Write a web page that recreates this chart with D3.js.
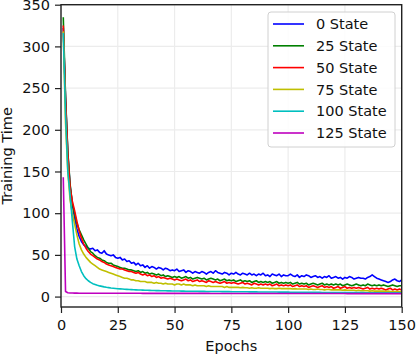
<!DOCTYPE html>
<html>
<head>
<meta charset="utf-8">
<script src="https://cdn.jsdelivr.net/npm/d3@7"></script>
<style>
  body { margin: 0; background: #fff; }
  svg { font-family: "DejaVu Sans", sans-serif; }
</style>
</head>
<body>
<script>
// series values, one per epoch (1..150)
var state0 = [
  322, 238, 172, 133, 110, 94, 81, 72, 66, 62,
  60, 58, 57, 58, 55, 56, 53, 52, 55, 51,
  50, 49, 50, 47, 46, 47, 44, 45, 42, 43,
  40, 41, 38, 40, 37, 38, 35, 37, 34, 36,
  35, 33, 35, 34, 32, 34, 33, 31, 32, 31,
  33, 30, 31, 32, 29, 31, 30, 28, 30, 29,
  28, 30, 29, 27, 29, 30, 28, 31, 29, 28,
  27, 29, 28, 26, 28, 27, 29, 27, 26, 28,
  27, 26, 28, 26, 27, 25, 27, 26, 28, 25,
  26, 24, 27, 26, 25, 27, 24, 26, 25, 25,
  27, 25, 24, 26, 23, 25, 24, 26, 25, 23,
  24, 25, 23, 24, 22, 24, 23, 25, 22, 23,
  24, 22, 23, 21, 23, 22, 24, 23, 21, 22,
  23, 22, 22, 21, 23, 24, 26, 24, 22, 21,
  20, 19, 18, 17, 18, 20, 21, 19, 18, 20
];
var state25 = [
  335, 240, 174, 135, 112, 99, 88, 80, 74, 68,
  63, 58, 54, 52, 49, 47, 46, 44, 43, 41,
  40, 40, 38, 37, 36, 35, 34, 34, 33, 32,
  32, 31, 30, 31, 29, 30, 28, 29, 27, 28,
  27, 26, 27, 25, 26, 24, 25, 24, 23, 24,
  23, 24, 22, 23, 24, 22, 23, 21, 22, 23,
  22, 21, 22, 20, 21, 22, 21, 20, 21, 19,
  20, 21, 19, 20, 19, 20, 18, 19, 20, 18,
  19, 18, 19, 17, 18, 19, 17, 18, 17, 18,
  17, 18, 16, 17, 18, 16, 17, 16, 17, 16,
  17, 15, 16, 17, 15, 16, 15, 16, 14, 15,
  16, 15, 14, 15, 16, 14, 15, 14, 15, 14,
  15, 14, 15, 13, 14, 15, 14, 13, 14, 15,
  14, 13, 14, 13, 15, 14, 13, 14, 13, 14,
  13, 14, 13, 12, 13, 14, 13, 12, 13, 13
];
var state50 = [
  325, 235, 170, 131, 114, 103, 90, 79, 70, 63,
  58, 54, 51, 49, 47, 45, 44, 42, 41, 39,
  38, 37, 36, 35, 34, 33, 33, 32, 31, 30,
  30, 29, 28, 29, 27, 26, 27, 25, 26, 24,
  25, 23, 24, 22, 23, 22, 21, 22, 21, 20,
  21, 20, 19, 20, 21, 19, 20, 18, 19, 20,
  18, 19, 18, 17, 19, 18, 17, 18, 17, 16,
  17, 18, 16, 17, 16, 17, 16, 15, 16, 17,
  15, 16, 15, 14, 16, 15, 14, 15, 14, 15,
  14, 15, 13, 14, 15, 13, 14, 13, 14, 13,
  14, 12, 13, 14, 12, 13, 12, 13, 11, 12,
  13, 12, 11, 12, 13, 11, 12, 11, 12, 10,
  11, 12, 10, 11, 12, 10, 11, 10, 11, 10,
  11, 10, 9, 10, 11, 9, 10, 9, 10, 9,
  10, 9, 8, 9, 10, 8, 9, 8, 9, 8
];
var state75 = [
  318, 208, 150, 116, 99, 87, 74, 63, 56, 51,
  47, 44, 41, 39, 37, 35, 33, 32, 31, 30,
  29, 28, 27, 26, 25, 24, 23, 22, 22, 21,
  20, 20, 19, 19, 18, 18, 18, 17, 17, 17,
  16, 17, 16, 16, 15, 16, 15, 15, 15, 14,
  15, 15, 14, 15, 14, 14, 14, 13, 14, 13,
  13, 13, 13, 12, 13, 12, 12, 12, 12, 12,
  12, 11, 12, 11, 11, 11, 11, 11, 10.5, 11,
  10.5, 10.5, 10, 10.5, 10, 10, 10.5, 10, 10, 10,
  10, 9.5, 10, 9.5, 9.5, 10, 9.5, 9.5, 9.5, 9.5,
  9.5, 9, 9.5, 9, 9, 9, 9, 9, 8.5, 9,
  8.5, 8.5, 9, 8.5, 8.5, 8, 8.5, 8.5, 8, 8,
  8, 8, 8, 7.5, 8, 7.5, 7.5, 7.5, 7.5, 7,
  7.5, 7, 7, 7, 7, 6.5, 7, 6.5, 6.5, 6.5,
  6.5, 6.5, 6, 6.5, 6, 6, 6, 6, 6, 6
];
var state100 = [
  316, 218, 150, 122, 90, 60, 45, 37, 30, 25,
  21.5, 19, 17, 15.5, 14.5, 13.5, 12.8, 12.2, 11.6, 11.1,
  10.7, 10.3, 10, 9.7, 9.4, 9.2, 9, 8.8, 8.6, 8.4,
  8.3, 8.1, 8, 7.9, 7.8, 7.7, 7.6, 7.5, 7.4, 7.3,
  7.2, 7.1, 7.1, 7, 6.9, 6.9, 6.8, 6.8, 6.7, 6.7,
  6.6, 6.6, 6.5, 6.5, 6.4, 6.4, 6.4, 6.3, 6.3, 6.3,
  6.2, 6.2, 6.2, 6.1, 6.1, 6.1, 6, 6, 6, 6,
  5.9, 5.9, 5.9, 5.9, 5.8, 5.8, 5.8, 5.8, 5.7, 5.7,
  5.7, 5.7, 5.6, 5.6, 5.6, 5.6, 5.5, 5.5, 5.5, 5.5,
  5.4, 5.4, 5.4, 5.4, 5.4, 5.3, 5.3, 5.3, 5.3, 5.3,
  5.2, 5.2, 5.2, 5.1, 5.1, 5.1, 5.1, 5.1, 5, 5,
  5, 5, 5, 5, 4.9, 4.9, 4.9, 4.9, 4.9, 4.9,
  4.8, 4.8, 4.8, 4.8, 4.8, 4.8, 4.7, 4.7, 4.7, 4.7,
  4.7, 4.7, 4.7, 4.6, 4.6, 4.6, 4.6, 4.6, 4.6, 4.6,
  4.6, 4.5, 4.5, 4.5, 4.5, 4.5, 4.5, 4.5, 4.5, 4.5
];
var state125 = [
  143, 6, 4.6, 4.3, 4.2, 4.1, 4.1, 4.0, 4.0, 4.0,
  4.0, 4.0, 4.0, 3.9, 3.9, 3.9, 3.9, 3.9, 3.9, 3.9,
  3.9, 3.9, 3.9, 3.9, 3.9, 3.9, 3.9, 3.9, 3.9, 3.9,
  3.9, 3.9, 3.9, 3.9, 3.9, 3.8, 3.8, 3.8, 3.8, 3.8,
  3.8, 3.8, 3.8, 3.8, 3.8, 3.8, 3.8, 3.8, 3.8, 3.8,
  3.8, 3.8, 3.8, 3.8, 3.8, 3.8, 3.8, 3.8, 3.8, 3.8,
  3.8, 3.8, 3.8, 3.8, 3.8, 3.7, 3.7, 3.7, 3.7, 3.7,
  3.7, 3.7, 3.7, 3.7, 3.7, 3.7, 3.7, 3.7, 3.7, 3.7,
  3.7, 3.7, 3.7, 3.7, 3.7, 3.7, 3.7, 3.7, 3.7, 3.7,
  3.7, 3.7, 3.7, 3.7, 3.7, 3.6, 3.6, 3.6, 3.6, 3.6,
  3.6, 3.6, 3.6, 3.6, 3.6, 3.6, 3.6, 3.6, 3.6, 3.6,
  3.6, 3.6, 3.6, 3.6, 3.6, 3.6, 3.6, 3.6, 3.6, 3.6,
  3.6, 3.6, 3.6, 3.6, 3.6, 3.5, 3.5, 3.5, 3.5, 3.5,
  3.5, 3.5, 3.5, 3.5, 3.5, 3.5, 3.5, 3.5, 3.5, 3.5,
  3.5, 3.5, 3.5, 3.5, 3.5, 3.5, 3.5, 3.5, 3.5, 3.5
];

var seriesNames = ["0 State", "25 State", "50 State", "75 State", "100 State", "125 State"];
var seriesValues = [state0, state25, state50, state75, state100, state125];
var seriesColors = ["#0000ff", "#008000", "#ff0000", "#bfbf00", "#00bfbf", "#bf00bf"];

var xTicks = [0, 25, 50, 75, 100, 125, 150];
var yTicks = [0, 50, 100, 150, 200, 250, 300, 350];

// svg size and plot box
var svgWidth = 416;
var svgHeight = 355;
var box = { left: 61, right: 401.7, top: 4.7, bottom: 307 };
var fontSize = "14.5px";

var svg = d3.select("body")
  .append("svg")
  .attr("width", svgWidth)
  .attr("height", svgHeight);

var xScale = d3.scaleLinear()
  .domain([0, 150])
  .range([box.left, box.right]);

var yScale = d3.scaleLinear()
  .domain([-12.5, 350])
  .range([box.bottom, box.top]);

// grid
svg.append("g")
  .selectAll("line")
  .data(xTicks)
  .enter()
  .append("line")
  .attr("x1", d => xScale(d))
  .attr("x2", d => xScale(d))
  .attr("y1", box.top)
  .attr("y2", box.bottom)
  .attr("stroke", "#ececec")
  .attr("stroke-width", 1.2);

svg.append("g")
  .selectAll("line")
  .data(yTicks)
  .enter()
  .append("line")
  .attr("x1", box.left)
  .attr("x2", box.right)
  .attr("y1", d => yScale(d))
  .attr("y2", d => yScale(d))
  .attr("stroke", "#ececec")
  .attr("stroke-width", 1.2);

// clip lines to the plot box
svg.append("clipPath")
  .attr("id", "plotclip")
  .append("rect")
  .attr("x", box.left)
  .attr("y", box.top)
  .attr("width", box.right - box.left)
  .attr("height", box.bottom - box.top);

var drawLine = d3.line()
  .x((d, i) => xScale(i + 1))
  .y(d => yScale(d));

svg.append("g")
  .attr("clip-path", "url(#plotclip)")
  .selectAll("path")
  .data(seriesValues)
  .enter()
  .append("path")
  .attr("d", d => drawLine(d))
  .attr("fill", "none")
  .attr("stroke", (d, i) => seriesColors[i])
  .attr("stroke-width", 1.6)
  .attr("stroke-linejoin", "round");

// axes
var bottomAxis = d3.axisBottom(xScale).tickValues(xTicks).tickSize(6).tickPadding(7);
var leftAxis = d3.axisLeft(yScale).tickValues(yTicks).tickSize(6).tickPadding(5);

var xAxisG = svg.append("g")
  .attr("transform", `translate(0, ${box.bottom})`)
  .call(bottomAxis);

var yAxisG = svg.append("g")
  .attr("transform", `translate(${box.left}, 0)`)
  .call(leftAxis);

[xAxisG, yAxisG].forEach(function (g) {
  g.select(".domain").remove();
  g.selectAll(".tick line").attr("stroke", "#222").attr("stroke-width", 1.2);
  g.selectAll(".tick text")
    .attr("fill", "#111")
    .attr("font-size", fontSize)
    .attr("font-family", "DejaVu Sans, sans-serif");
});

// spines
svg.append("rect")
  .attr("x", box.left)
  .attr("y", box.top)
  .attr("width", box.right - box.left)
  .attr("height", box.bottom - box.top)
  .attr("fill", "none")
  .attr("stroke", "#222")
  .attr("stroke-width", 1.4);

// axis labels
svg.append("text")
  .attr("x", (box.left + box.right) / 2)
  .attr("y", 351)
  .attr("text-anchor", "middle")
  .attr("font-size", fontSize)
  .attr("fill", "#111")
  .text("Epochs");

svg.append("text")
  .attr("transform", `translate(12, ${(box.top + box.bottom) / 2}) rotate(-90)`)
  .attr("text-anchor", "middle")
  .attr("font-size", fontSize)
  .attr("fill", "#111")
  .text("Training Time");

// legend
var legend = svg.append("g");

legend.append("rect")
  .attr("x", 268)
  .attr("y", 12)
  .attr("width", 127)
  .attr("height", 135)
  .attr("rx", 3)
  .attr("fill", "#fff")
  .attr("fill-opacity", 0.85)
  .attr("stroke", "#d0d0d0")
  .attr("stroke-width", 1);

var legendRow = d3.scaleLinear().domain([0, 5]).range([24, 133]);

var items = legend.selectAll("g.item")
  .data(seriesNames)
  .enter()
  .append("g")
  .attr("class", "item")
  .attr("transform", (d, i) => `translate(0, ${legendRow(i)})`);

items.append("line")
  .attr("x1", 273)
  .attr("x2", 304)
  .attr("y1", 0)
  .attr("y2", 0)
  .attr("stroke", (d, i) => seriesColors[i])
  .attr("stroke-width", 1.6);

items.append("text")
  .attr("x", 316)
  .attr("y", 5.2)
  .attr("font-size", fontSize)
  .attr("fill", "#111")
  .text(d => d);
</script>
</body>
</html>
